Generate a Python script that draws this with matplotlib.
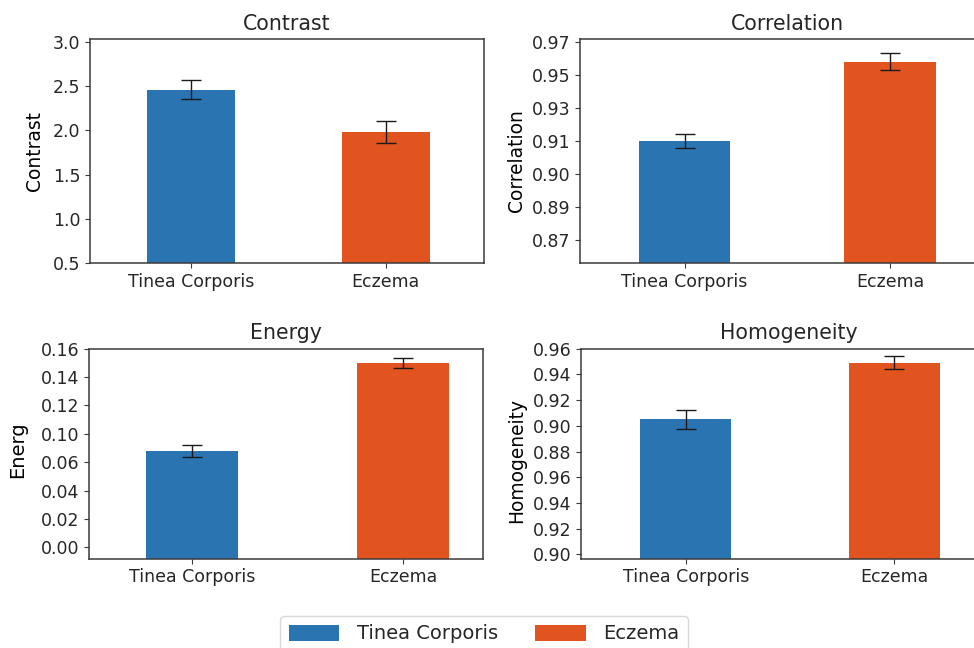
import matplotlib
matplotlib.use("Agg")
import matplotlib.pyplot as plt
import numpy as np

# data
categories = ["Tinea Corporis", "Eczema"]

contrast_mean = [2.46, 1.98]
contrast_err = [0.105, 0.125]

correlation_mean = [0.910, 0.958]
correlation_err = [0.0043, 0.005]

energy_mean = [0.0878, 0.1498]
energy_err = [0.0041, 0.0035]

homogeneity_mean = [0.905, 0.949]
homogeneity_err = [0.0075, 0.005]

# tick positions and the labels printed on them (as in the source figure)
contrast_ticks = [0.5, 1.0, 1.5, 2.0, 2.5, 3.0]
contrast_labels = ["0.5", "1.0", "1.5", "2.0", "2.5", "3.0"]
correlation_ticks = [0.85, 0.87, 0.89, 0.91, 0.93, 0.95, 0.97]
correlation_labels = ["0.87", "0.89", "0.90", "0.91", "0.93", "0.95", "0.97"]
energy_ticks = [0.02, 0.04, 0.06, 0.08, 0.10, 0.12, 0.14, 0.16]
energy_labels = ["0.00", "0.02", "0.04", "0.06", "0.10", "0.12", "0.14", "0.16"]
homogeneity_ticks = [0.80, 0.82, 0.84, 0.86, 0.88, 0.90, 0.92, 0.94, 0.96]
homogeneity_labels = ["0.90", "0.92", "0.94", "0.96", "0.88", "0.90", "0.92", "0.94", "0.96"]

colors = ["#2a74b2", "#e2541f"]
W, H = 974, 648

plt.rcParams["font.family"] = "DejaVu Sans"
plt.rcParams["text.color"] = "#262626"
plt.rcParams["axes.edgecolor"] = "#3a3a3a"
plt.rcParams["xtick.color"] = "#3a3a3a"
plt.rcParams["ytick.color"] = "#3a3a3a"
plt.rcParams["xtick.labelcolor"] = "#262626"
plt.rcParams["ytick.labelcolor"] = "#262626"

fig = plt.figure(figsize=(W / 100, H / 100), dpi=100)


def px_axes(left, top, width, height):
    return fig.add_axes([left / W, 1 - (top + height) / H, width / W, height / H])


panels = [
    # title, ylabel, means, errs, ticks, labels, ylim, box(px), xlim, bar width, label coords
    ("Contrast", "Contrast", contrast_mean, contrast_err, contrast_ticks, contrast_labels,
     (0.5, 3.027), (90, 39.3, 394, 224), (-0.517, 1.504), 0.453, (-0.117, 0.5)),
    ("Correlation", "Correlation", correlation_mean, correlation_err, correlation_ticks,
     correlation_labels, (0.836, 0.9715), (580.3, 39.3, 415, 224), (-0.508, 1.513), 0.444,
     (-0.132, 0.458)),
    ("Energy", "Energ", energy_mean, energy_err, energy_ticks, energy_labels,
     (0.012, 0.16), (89.3, 348.7, 394, 210), (-0.487, 1.381), 0.44, (-0.158, 0.518)),
    ("Homogeneity", "Homogeneity", homogeneity_mean, homogeneity_err, homogeneity_ticks,
     homogeneity_labels, (0.7966, 0.96), (581.3, 348.7, 415, 210), (-0.501, 1.490), 0.437,
     (-0.134, 0.466)),
]

x = np.arange(len(categories))
handles = None
for title, ylabel, means, errs, ticks, labels, ylim, box, xlim, bw, lc in panels:
    ax = px_axes(*box)
    bars = ax.bar(x, means, width=bw, color=colors, label=categories)
    ax.errorbar(x, means, yerr=errs, fmt="none", ecolor="#1a1a1a",
                elinewidth=1.0, capsize=7, capthick=1.0)
    handles = bars
    ax.set_xlim(*xlim)
    ax.set_ylim(*ylim)
    ax.set_xticks(x)
    ax.set_xticklabels(categories, fontsize=12.5)
    ax.set_yticks(ticks)
    ax.set_yticklabels(labels, fontsize=12.5)
    ax.set_title(title, fontsize=14.8, pad=7)
    ax.set_ylabel(ylabel, fontsize=13.4 if ylabel != "Energ" else 14)
    ax.yaxis.set_label_coords(*lc)
    for s in ax.spines.values():
        s.set_linewidth(1.1)

fig.legend(handles, categories, loc="upper center", ncol=2,
           bbox_to_anchor=(484 / W, 1 - 606 / H), fontsize=14,
           handlelength=2.6, handleheight=0.9, handletextpad=0.9,
           columnspacing=1.9, borderpad=0.45, frameon=True,
           edgecolor="#d0d0d0", fancybox=True)

fig.savefig("out.png", dpi=100)
